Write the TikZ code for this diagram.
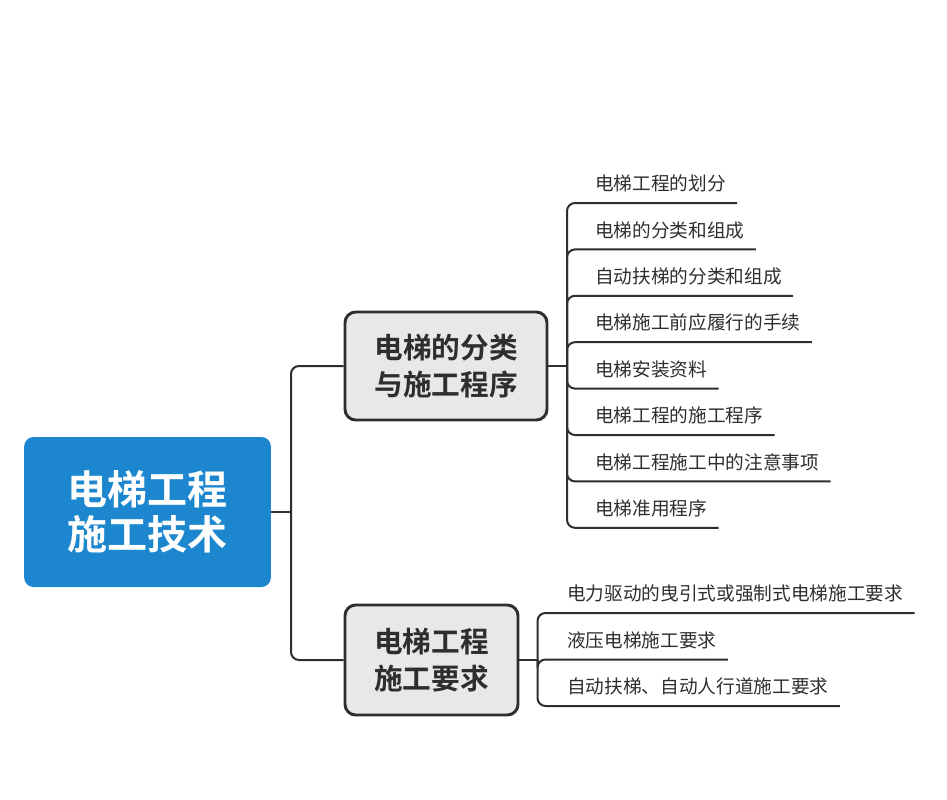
\documentclass[tikz,border=0pt]{standalone}
\usepackage{fontspec}
\newfontfamily\cjk[BoldFont={Noto Sans CJK SC Bold}]{Noto Sans CJK SC}
\definecolor{rootblue}{HTML}{1C87CF}
\definecolor{boxgray}{HTML}{E8E8E8}
\definecolor{ink}{HTML}{2E2E2E}
\tikzset{
  rootbox/.style={fill=rootblue, rounded corners=7, text=white, align=center, inner sep=0pt,
    font=\cjk\bfseries\fontsize{30}{34}\selectfont},
  topicbox/.style={draw=ink, line width=2.2pt, fill=boxgray, rounded corners=8, text=ink,
    align=center, inner sep=0pt, font=\cjk\bfseries\fontsize{21.5}{28}\selectfont},
  leaf/.style={anchor=south west, inner xsep=8.25pt, inner ysep=9pt, text depth=0pt,
    text=ink, font=\cjk\fontsize{14}{16}\selectfont},
  link/.style={draw=ink, line width=1.5pt, rounded corners=6}
}
\begin{document}
\begin{tikzpicture}[x=0.75pt,y=-0.75pt]
   \useasboundingbox (0,0) rectangle (947,800);

   % root and the two topics
   \node[rootbox, minimum width=185pt, minimum height=112.5pt] (root) at (147.5,512) {电梯工程\\施工技术};
   \node[topicbox, minimum width=151.5pt, minimum height=81pt] (cls) at (446,366) {电梯的分类\\与施工程序};
   \node[topicbox, minimum width=129.75pt, minimum height=82.5pt] (req) at (431.5,660) {电梯工程\\施工要求};

   \coordinate (j0) at (291,512);
   \draw[link] (root.east) -- (j0);
   \draw[link] (j0) |- (cls.west);
   \draw[link] (j0) |- (req.west);

   % first topic
   \coordinate (ja) at (567,366);
   \draw[link] (cls.east) -- (ja);
   \foreach \t [count=\i] in {电梯工程的划分,电梯的分类和组成,自动扶梯的分类和组成,
       电梯施工前应履行的手续,电梯安装资料,电梯工程的施工程序,电梯工程施工中的注意事项,电梯准用程序}
   {
     \node[leaf] (a\i) at (584,{156.6+46.4*\i}) {\t};
     \draw[link] (ja) |- (a\i.south east);
   }

   % second topic
   \coordinate (jb) at (537.5,660);
   \draw[link] (req.east) -- (jb);
   \foreach \t [count=\i] in {电力驱动的曳引式或强制式电梯施工要求,液压电梯施工要求,自动扶梯、自动人行道施工要求}
   {
     \node[leaf] (b\i) at (556,{566.5+46.5*\i}) {\t};
     \draw[link] (jb) |- (b\i.south east);
   }
\end{tikzpicture}
\end{document}
